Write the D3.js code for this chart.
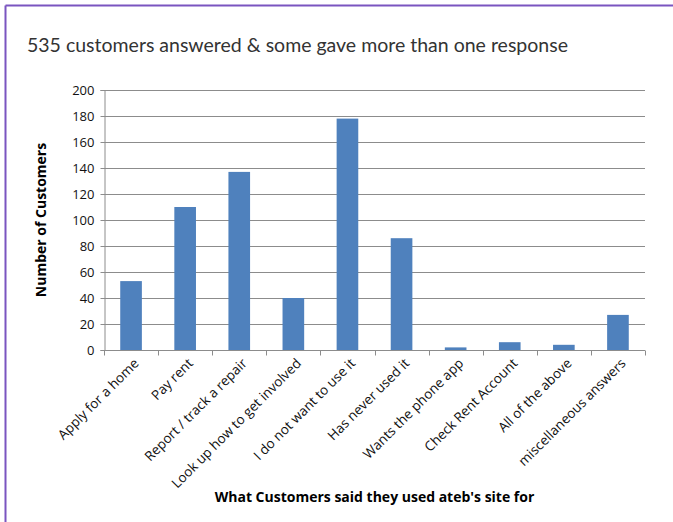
<!DOCTYPE html>
<html>
<head>
<meta charset="utf-8">
<script src="https://cdn.jsdelivr.net/npm/d3@7"></script>
<style>
  body { margin: 0; background: #fff; }
  svg { display: block; }
</style>
</head>
<body>
<script>
// chart data
const categories = ['Apply for a home', 'Pay rent', 'Report / track a repair', 'Look up how to get involved',
  'I do not want to use it', 'Has never used it', 'Wants the phone app', 'Check Rent Account',
  'All of the above', 'miscellaneous answers']
const customers = [53, 110, 137, 40, 178, 86, 2, 6, 4, 27]
const yTicks = [0, 20, 40, 60, 80, 100, 120, 140, 160, 180, 200]

const W = 673, H = 522
const margin = {top: 90, right: 28, bottom: 172, left: 104}

const svg = d3.select('body').append('svg')
  .attr('width', W)
  .attr('height', H)

// purple frame, top and left edges only
svg.append('line').attr('x1', 5.5).attr('x2', W).attr('y1', 5.5).attr('y2', 5.5)
  .attr('stroke', '#7a55c0').attr('stroke-width', 2)
svg.append('line').attr('x1', 5.5).attr('x2', 5.5).attr('y1', 5.5).attr('y2', H)
  .attr('stroke', '#7a55c0').attr('stroke-width', 2)

// heading
svg.append('text')
  .attr('x', 27).attr('y', 52)
  .attr('font-family', 'Lato, "Noto Sans", sans-serif')
  .attr('font-size', 19.5)
  .attr('fill', '#333')
  .text('535 customers answered & some gave more than one response')

const x = d3.scaleBand()
  .domain(categories)
  .range([margin.left, W - margin.right])
  .paddingInner(0.6)
  .paddingOuter(0.3)

const xTicks = d3.scaleBand()
  .domain(categories)
  .range([margin.left, W - margin.right])

const y = d3.scaleLinear()
  .domain([0, 200])
  .range([H - margin.bottom, margin.top])

const g = svg.append('g')

// gridlines
g.selectAll('.grid')
  .data(yTicks.filter(d => d > 0))
  .enter().append('line')
  .attr('class', 'grid')
  .attr('x1', margin.left).attr('x2', W - margin.right)
  .attr('y1', d => Math.round(y(d)) + 0.5).attr('y2', d => Math.round(y(d)) + 0.5)
  .attr('stroke', '#8c8c8c')
  .attr('stroke-width', 1.2)

// bars
g.selectAll('.bar')
  .data(categories)
  .enter().append('rect')
  .attr('class', 'bar')
  .attr('x', d => x(d))
  .attr('width', x.bandwidth())
  .attr('y', (d, i) => y(customers[i]))
  .attr('height', (d, i) => y(0) - y(customers[i]))
  .attr('fill', '#4f81bd')

// y axis
const yAxis = g.append('g')
  .attr('transform', 'translate(' + (margin.left + 0.5) + ',0)')
  .call(d3.axisLeft(y).tickValues(yTicks).tickSize(4).tickPadding(6))
yAxis.selectAll('line, path').attr('stroke', '#8c8c8c')
yAxis.selectAll('text')
  .attr('font-family', '"Open Sans", sans-serif')
  .attr('font-size', 13)
  .attr('fill', '#111')

// x axis with ticks at band edges
const xAxisG = g.append('g')
  .attr('transform', 'translate(0,' + (Math.round(y(0)) + 0.5) + ')')
xAxisG.append('line')
  .attr('x1', margin.left).attr('x2', W - margin.right)
  .attr('stroke', '#8c8c8c').attr('stroke-width', 1.2)
const edges = categories.map(c => xTicks(c)).concat([W - margin.right])
xAxisG.selectAll('.tick')
  .data(edges)
  .enter().append('line')
  .attr('x1', d => Math.round(d) + 0.5).attr('x2', d => Math.round(d) + 0.5)
  .attr('y1', 0).attr('y2', 5)
  .attr('stroke', '#8c8c8c')

xAxisG.selectAll('.lbl')
  .data(categories)
  .enter().append('text')
  .attr('class', 'lbl')
  .attr('transform', d => 'translate(' + (xTicks(d) + xTicks.bandwidth() / 2 + 2) + ',7) rotate(-45)')
  .attr('text-anchor', 'end')
  .attr('dy', '0.7em')
  .attr('font-family', '"Open Sans", sans-serif')
  .attr('font-size', 13.5)
  .attr('fill', '#111')
  .text(d => d)

// axis titles
svg.append('text')
  .attr('transform', 'translate(46,' + ((margin.top + H - margin.bottom) / 2) + ') rotate(-90)')
  .attr('text-anchor', 'middle')
  .attr('font-family', '"Open Sans", sans-serif')
  .attr('font-weight', 'bold')
  .attr('font-size', 14)
  .attr('fill', '#000')
  .text('Number of Customers')

svg.append('text')
  .attr('x', (margin.left + W - margin.right) / 2)
  .attr('y', 502)
  .attr('text-anchor', 'middle')
  .attr('font-family', '"Open Sans", sans-serif')
  .attr('font-weight', 'bold')
  .attr('font-size', 14)
  .attr('fill', '#000')
  .text("What Customers said they used ateb's site for")
</script>
</body>
</html>
